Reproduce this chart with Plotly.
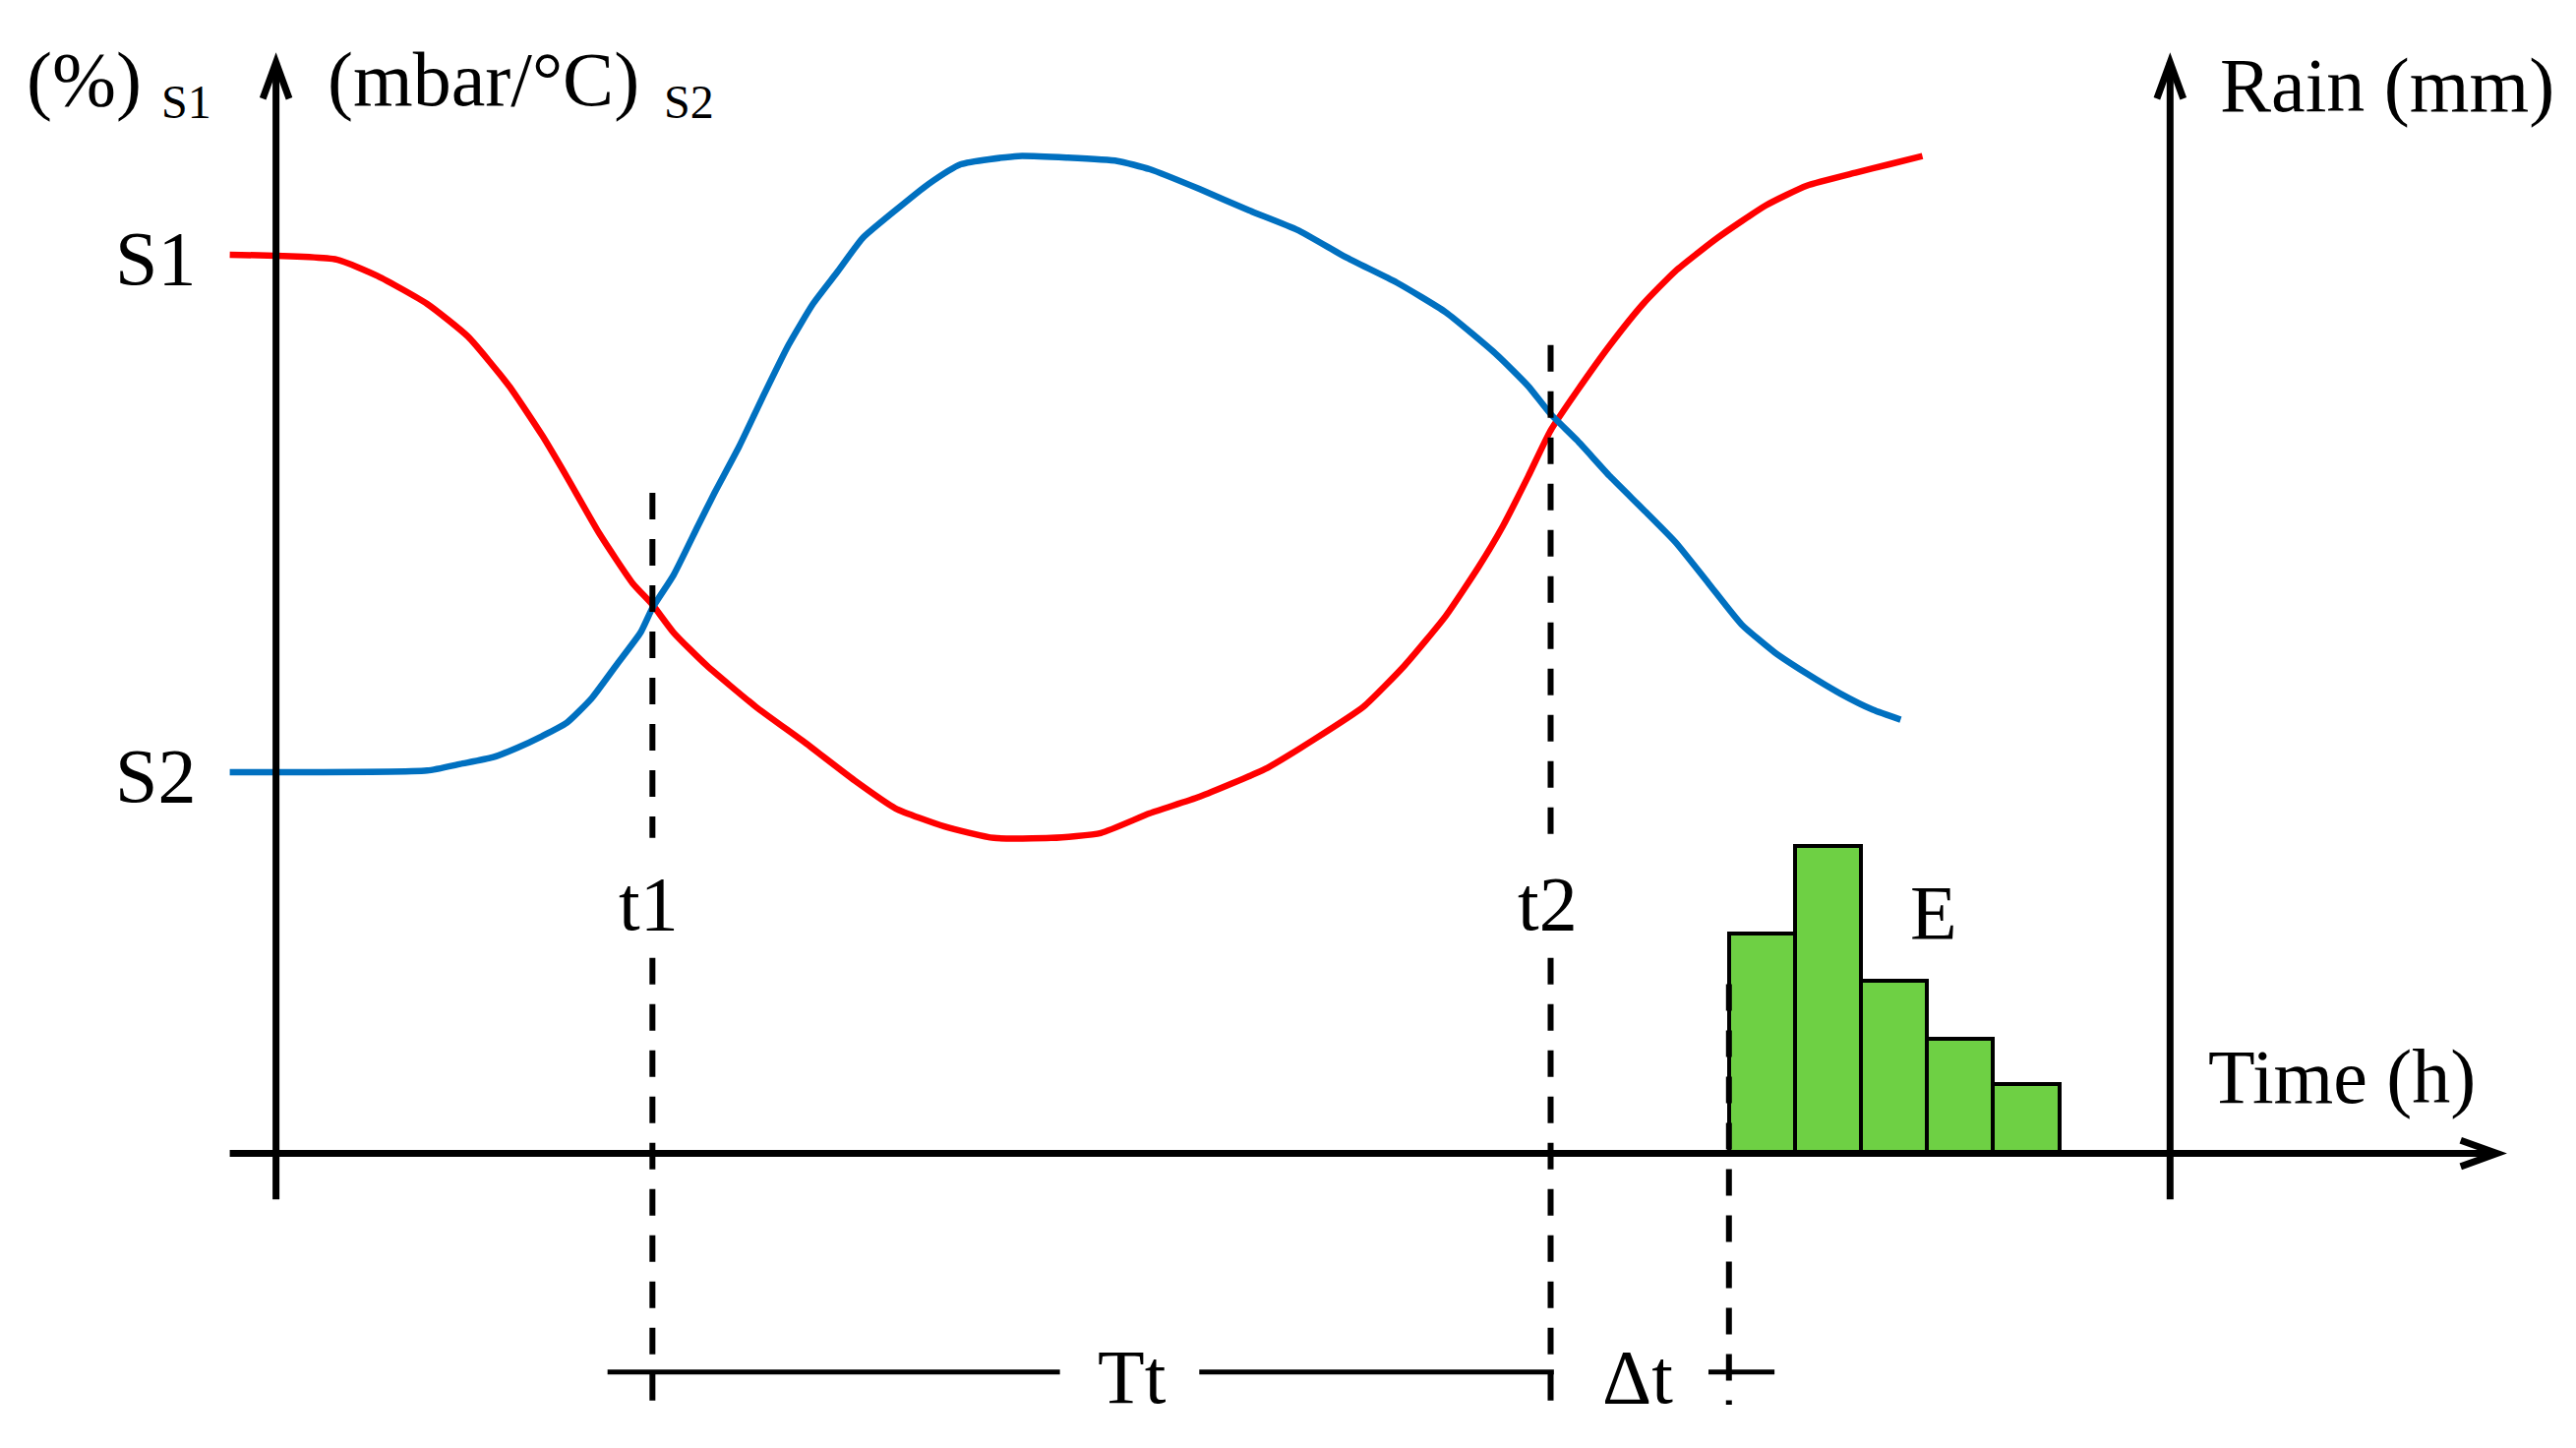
import plotly.graph_objects as go

# ---------------- data (hours / signal units) ----------------
red_time = [-0.70, 0.92, 1.54, 2.29, 2.91, 3.53, 4.03, 4.40, 4.90, 5.40, 5.70, 6.02, 6.52,
            7.26, 8.01, 8.76, 9.38, 10.12, 10.87, 11.74, 12.49, 13.23, 13.98, 14.98,
            15.72, 16.47, 17.09, 17.71, 18.21, 18.58, 18.96, 19.30, 19.70, 20.20, 20.70,
            21.19, 21.82, 22.56, 23.18, 23.93, 24.43, 24.93]
red_s1 = [54.7, 54.4, 53.4, 51.7, 49.7, 46.7, 43.7, 41.2, 37.7, 34.7, 33.4, 31.7, 29.7,
          27.2, 25.0, 22.7, 21.0, 19.9, 19.2, 19.2, 19.5, 20.7, 21.7, 23.4,
          25.2, 27.2, 29.7, 32.7, 35.7, 38.2, 41.2, 44.0, 46.4, 49.2, 51.7,
          53.7, 55.7, 57.7, 58.9, 59.7, 60.2, 60.7]

blue_time = [-0.70, 2.29, 2.79, 3.28, 3.66, 4.03, 4.40, 4.78, 5.15, 5.52, 5.70, 6.02, 6.39,
             6.64, 7.01, 7.39, 7.76, 8.13, 8.51, 8.88, 9.38, 9.88, 10.37, 11.24, 11.99,
             12.74, 13.23, 13.98, 14.73, 15.47, 16.22, 16.97, 17.71, 18.46, 18.96, 19.30,
             19.70, 20.20, 20.70, 21.19, 21.69, 22.19, 22.69, 23.18, 23.68, 24.18, 24.60]
blue_s2 = [23.2, 23.3, 23.7, 24.1, 24.7, 25.4, 26.2, 27.7, 29.7, 31.7, 33.2, 35.2, 38.2,
           40.2, 43.0, 46.2, 49.2, 51.7, 53.7, 55.7, 57.4, 59.0, 60.2, 60.7, 60.6,
           60.4, 59.9, 58.7, 57.4, 56.2, 54.5, 53.0, 51.2, 48.7, 46.7, 45.0,
           43.4, 41.2, 39.2, 37.2, 34.7, 32.2, 30.5, 29.2, 28.0, 27.0, 26.4]

rain_start_h = [22, 23, 24, 25, 26]
rain_mm = [13.4, 18.7, 10.5, 7.0, 4.2]

event_names = ["t1", "t2"]
event_times = [5.70, 19.30]
rain_onset = 22.0

level_labels = ["S1", "S2"]
level_values = [54.5, 23.0]

# ---------------- layout constants ----------------
X_RANGE = [-4.060, 34.707]
Y_RANGE = [-17.45, 69.72]
FONT = "Liberation Serif, Times New Roman, serif"
BIG = 78
SMALL = 48
AX_W = 7
BLACK = "#000000"

fig = go.Figure()

fig.add_trace(go.Bar(
    x=rain_start_h, y=rain_mm, width=[1] * len(rain_mm), offset=0,
    marker=dict(color="#6ED044", line=dict(color=BLACK, width=4)),
    showlegend=False, hoverinfo="skip"))

fig.add_trace(go.Scatter(
    x=red_time, y=red_s1, mode="lines",
    line=dict(color="#FF0000", width=6.5, shape="spline", smoothing=0.5),
    showlegend=False, hoverinfo="skip"))
fig.add_trace(go.Scatter(
    x=blue_time, y=blue_s2, mode="lines",
    line=dict(color="#0070C0", width=6.5, shape="spline", smoothing=0.5),
    showlegend=False, hoverinfo="skip"))

shapes = []


def seg(x0, y0, x1, y1, width=AX_W, dash=None):
    d = dict(type="line", xref="x", yref="y", x0=x0, y0=y0, x1=x1, y1=y1,
             line=dict(color=BLACK, width=width), layer="above")
    if dash:
        d["line"]["dash"] = dash
    shapes.append(d)


def path(p, width=AX_W):
    shapes.append(dict(type="path", xref="x", yref="y", path=p,
                       line=dict(color=BLACK, width=width), layer="above"))


# axes
left_x, right_x = 0.0, 28.68
ax_bottom, ax_top = -2.8, 66.4
x_start, x_end = -0.70, 33.63
seg(left_x, ax_bottom, left_x, ax_top)
seg(right_x, ax_bottom, right_x, ax_top)
seg(x_start, 0, x_end, 0)
hw_t, hl_v = 0.20, 2.2   # vertical arrow head half-width / length
hl_t, hw_v = 0.55, 0.80  # horizontal arrow head length / half-height
for ax in (left_x, right_x):
    path(f"M {ax - hw_t},{ax_top - hl_v} L {ax},{ax_top} L {ax + hw_t},{ax_top - hl_v}")
path(f"M {x_end - hl_t},{hw_v} L {x_end},0 L {x_end - hl_t},{-hw_v}")

# dashed event lines
DASH = "27px,20px"
tops = [40.2, 49.2]
for tt, top in zip(event_times, tops):
    seg(tt, top, tt, 19.2, width=6, dash=DASH)
    seg(tt, 11.9, tt, -15.3, width=6, dash=DASH)
seg(rain_onset, 10.3, rain_onset, -15.3, width=6, dash=DASH)

# bracket Tt / Δt
by = -13.3
seg(5.02, by, 11.87, by, width=5)
seg(13.98, by, 19.35, by, width=5)
seg(21.69, by, 22.69, by, width=5)

fig.update_layout(shapes=shapes)

ann = []


def txt(x, y, s, size=BIG, xanchor="center", yanchor="middle"):
    ann.append(dict(x=x, y=y, xref="x", yref="y", text=s, showarrow=False,
                    xanchor=xanchor, yanchor=yanchor,
                    font=dict(family=FONT, size=size, color=BLACK)))


txt(-3.81, 65.4, "(%)", xanchor="left")
txt(-1.77, 64.0, "S1", size=SMALL, xanchor="left")
txt(0.75, 65.4, "(mbar/°C)", xanchor="left")
txt(5.85, 64.0, "S2", size=SMALL, xanchor="left")
txt(29.40, 65.0, "Rain (mm)", xanchor="left")
for lab, val in zip(level_labels, level_values):
    txt(-1.19, val, lab, xanchor="right")
for name, tt in zip(event_names, event_times):
    txt(tt - 0.05, 15.2, name)
txt(25.10, 14.7, "E")
txt(29.23, 4.7, "Time (h)", xanchor="left")
txt(12.96, -13.6, "Tt")
txt(20.62, -13.6, "Δt")

fig.update_layout(
    annotations=ann,
    width=2603, height=1456, autosize=False,
    margin=dict(l=0, r=0, t=0, b=0, pad=0),
    paper_bgcolor="white", plot_bgcolor="white",
    xaxis=dict(range=X_RANGE, visible=False, fixedrange=True),
    yaxis=dict(range=Y_RANGE, visible=False, fixedrange=True),
    bargap=0,
)

fig.write_html("out.html")
